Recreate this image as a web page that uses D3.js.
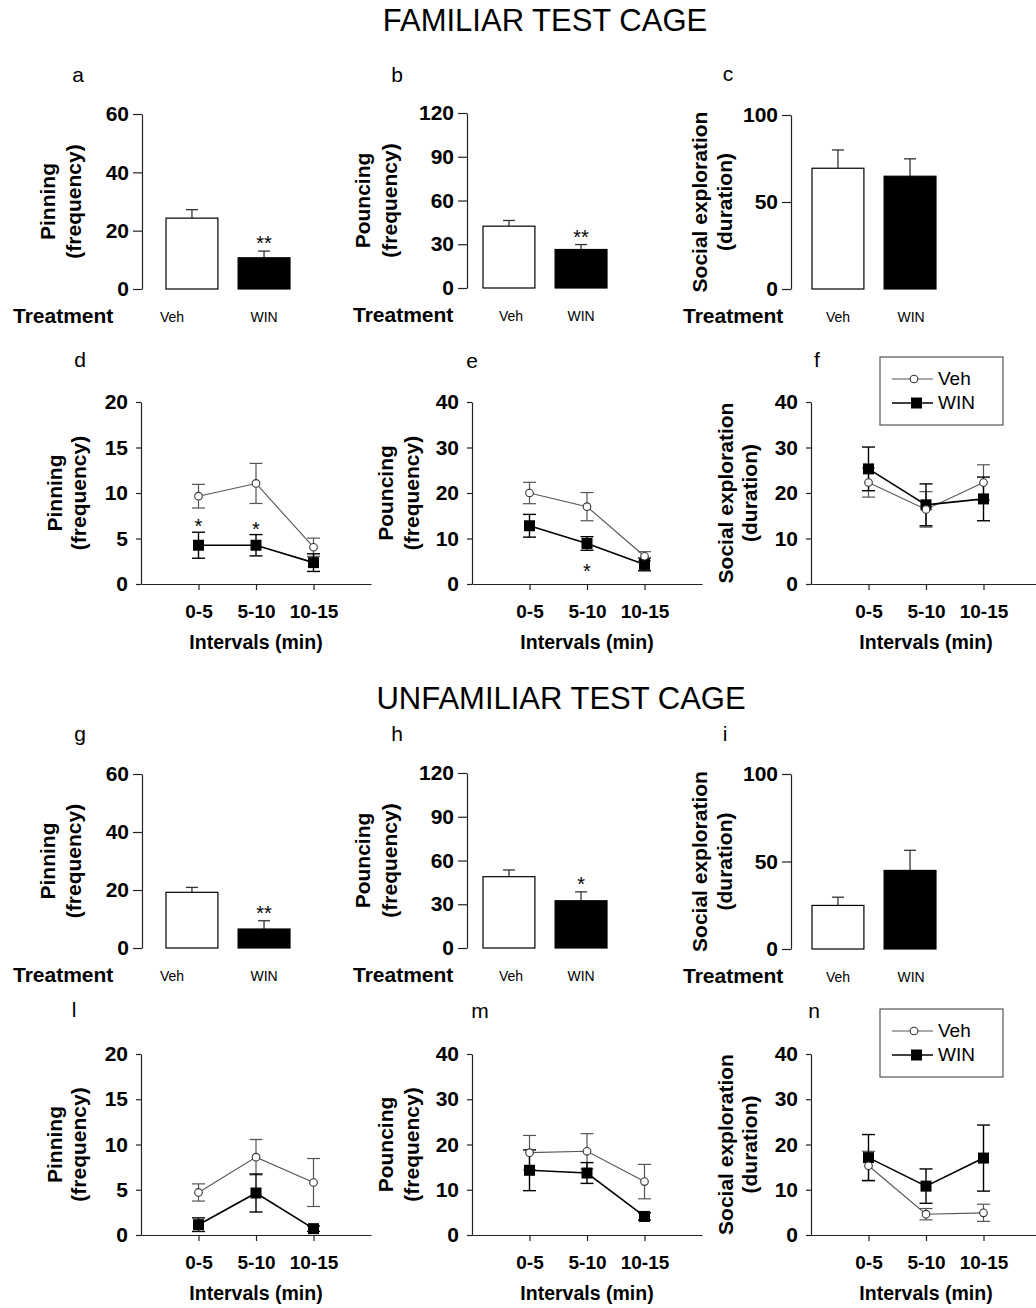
<!DOCTYPE html>
<html lang="en">
<head>
<meta charset="utf-8" />
<title>Familiar / unfamiliar test cage</title>
<script src="https://d3js.org/d3.v7.min.js"></script>
<style>
    body { margin: 0; background: #fff; }
    svg text { font-family: "Liberation Sans", Arial, sans-serif; }
</style>
</head>
<body>
<svg id="chart"></svg>
<script>
    var w = 1036;
    var h = 1308;

    // categories
    var groups = ["Veh", "WIN"];
    var intervals = ["0-5", "5-10", "10-15"];

    // tick labels
    var pinBarTicks = [0, 20, 40, 60];
    var pounceBarTicks = [0, 30, 60, 90, 120];
    var socialBarTicks = [0, 50, 100];
    var pinLineTicks = [0, 5, 10, 15, 20];
    var tenTicks = [0, 10, 20, 30, 40];

    // familiar cage, totals (mean, upper SEM)
    var famPinMean = [24.3, 10.7], famPinErr = [2.9, 2.3], famPinSig = ["", "**"];
    var famPounceMean = [42.4, 26.4], famPounceErr = [3.9, 3.4], famPounceSig = ["", "**"];
    var famSocialMean = [69.4, 64.8], famSocialErr = [10.5, 10.0], famSocialSig = ["", ""];

    // familiar cage, per interval
    var famPinVeh = [9.65, 11.05, 4.04], famPinVehErr = [1.3, 2.2, 1.0];
    var famPinWin = [4.26, 4.26, 2.35], famPinWinErr = [1.43, 1.17, 0.97];
    var famPinIntSig = ["*", "*", ""];
    var famPounceVeh = [20.0, 17.0, 6.1], famPounceVehErr = [2.35, 3.1, 1.0];
    var famPounceWin = [12.8, 8.9, 4.3], famPounceWinErr = [2.5, 1.5, 1.4];
    var famPounceIntSig = ["", "*", ""];
    var famSocialVeh = [22.3, 16.4, 22.3], famSocialVehErr = [3.2, 3.9, 3.9];
    var famSocialWin = [25.3, 17.4, 18.7], famSocialWinErr = [4.8, 4.6, 4.8];
    var famSocialIntSig = ["", "", ""];

    // unfamiliar cage, totals
    var unfPinMean = [19.2, 6.55], unfPinErr = [1.7, 2.85], unfPinSig = ["", "**"];
    var unfPounceMean = [48.9, 32.4], unfPounceErr = [4.6, 6.1], unfPounceSig = ["", "*"];
    var unfSocialMean = [24.9, 44.9], unfSocialErr = [4.7, 11.5], unfSocialSig = ["", ""];

    // unfamiliar cage, per interval
    var unfPinVeh = [4.7, 8.6, 5.8], unfPinVehErr = [0.95, 1.95, 2.65];
    var unfPinWin = [1.14, 4.64, 0.7], unfPinWinErr = [0.75, 2.1, 0.3];
    var unfPounceVeh = [18.2, 18.5, 11.8], unfPounceVehErr = [3.8, 3.9, 3.8];
    var unfPounceWin = [14.3, 13.7, 4.1], unfPounceWinErr = [4.5, 2.3, 0.8];
    var unfSocialVeh = [15.3, 4.6, 4.9], unfSocialVehErr = [3.2, 1.25, 1.9];
    var unfSocialWin = [17.1, 10.8, 17.0], unfSocialWinErr = [5.1, 3.8, 7.3];
    var noSig = ["", "", ""];

    var svg = d3.select("#chart")
        .attr("width", w)
        .attr("height", h);

    var axisColor = "#222";
    var vehColor = "#555";

    // section titles
    svg.append("text").attr("x", 545).attr("y", 31)
        .attr("text-anchor", "middle").attr("font-size", "31px")
        .text("FAMILIAR TEST CAGE");
    svg.append("text").attr("x", 561).attr("y", 709)
        .attr("text-anchor", "middle").attr("font-size", "31px")
        .text("UNFAMILIAR TEST CAGE");

    function styleAxis(g, size) {
        g.selectAll(".domain, .tick line").attr("stroke", axisColor).attr("stroke-width", 1.2);
        g.selectAll("text")
            .attr("fill", "#000")
            .attr("font-size", size)
            .attr("font-weight", "bold")
            .attr("font-family", "'Liberation Sans', Arial, sans-serif");
    }

    function yLabel(p, yMid) {
        p.label.forEach(function(line, i) {
            svg.append("text")
                .attr("transform", "translate(" + (p.ax + p.labelOff[i]) + "," + yMid + ") rotate(-90)")
                .attr("text-anchor", "middle")
                .attr("font-size", "21px")
                .attr("font-weight", "bold")
                .text(line);
        });
    }

    function panelLetter(p) {
        svg.append("text")
            .attr("x", p.letterX).attr("y", p.letterY)
            .attr("text-anchor", "middle")
            .attr("font-size", "21px")
            .text(p.letter);
    }

    // bar chart panel
    function drawBar(p) {
        var y = d3.scaleLinear().domain([0, p.max]).range([p.yBot, p.yTop]);
        var x = d3.scaleBand().domain(groups)
            .range([p.ax + p.barStart, p.ax + p.barStart + 124])
            .paddingInner(0.28);

        var ax = svg.append("g")
            .attr("transform", "translate(" + p.ax + ",0)")
            .call(d3.axisLeft(y).tickValues(p.ticks).tickSize(9).tickSizeOuter(0).tickPadding(4));
        styleAxis(ax, "21px");

        // error bars (upper only)
        groups.forEach(function(gname, i) {
            var cx = x(gname) + x.bandwidth() / 2;
            svg.append("line")
                .attr("x1", cx).attr("x2", cx)
                .attr("y1", y(p.mean[i])).attr("y2", y(p.mean[i] + p.err[i]))
                .attr("stroke", "#333").attr("stroke-width", 1.3);
            svg.append("line")
                .attr("x1", cx - 6).attr("x2", cx + 6)
                .attr("y1", y(p.mean[i] + p.err[i])).attr("y2", y(p.mean[i] + p.err[i]))
                .attr("stroke", "#333").attr("stroke-width", 1.3);
            if (p.sig[i]) {
                svg.append("text")
                    .attr("x", cx).attr("y", y(p.mean[i] + p.err[i]) - 1)
                    .attr("text-anchor", "middle").attr("font-size", "20px")
                    .text(p.sig[i]);
            }
        });

        svg.selectAll(null)
            .data(p.mean)
            .enter().append("rect")
            .attr("x", function(d, i) { return x(groups[i]); })
            .attr("y", function(d) { return y(d); })
            .attr("width", x.bandwidth())
            .attr("height", function(d) { return y(0) - y(d); })
            .attr("fill", function(d, i) { return i === 0 ? "#fff" : "#000"; })
            .attr("stroke", "#000")
            .attr("stroke-width", 1.2);

        // category labels
        groups.forEach(function(gname, i) {
            svg.append("text")
                .attr("x", x(gname) + x.bandwidth() / 2 + (p.catShift[i] || 0))
                .attr("y", p.yBot + 33)
                .attr("text-anchor", "middle")
                .attr("font-size", "14px")
                .text(gname);
        });
        svg.append("text")
            .attr("x", p.colX + 13).attr("y", p.yBot + 34)
            .attr("font-size", "21px").attr("font-weight", "bold")
            .text("Treatment");

        yLabel(p, (p.yTop + p.yBot) / 2);
        panelLetter(p);
    }

    // interval line chart panel
    function drawLine(p) {
        var y = d3.scaleLinear().domain([0, p.max]).range([p.yBot, p.yTop]);
        var x = d3.scaleLinear().domain([0, intervals.length + 1]).range([p.ax, p.ax + 230]);
        var pos = intervals.map(function(d, i) { return i + 1; });

        var xa = svg.append("g")
            .attr("transform", "translate(0," + p.yBot + ")")
            .call(d3.axisBottom(x).tickValues(pos)
                .tickFormat(function(d) { return intervals[d - 1]; })
                .tickSize(6).tickSizeOuter(0));
        styleAxis(xa, "19px");
        xa.selectAll("text").attr("y", 34).attr("dy", 0);

        var ya = svg.append("g")
            .attr("transform", "translate(" + p.ax + ",0)")
            .call(d3.axisLeft(y).tickValues(p.ticks).tickSize(5).tickSizeOuter(0).tickPadding(8));
        styleAxis(ya, "21px");

        var line = d3.line()
            .x(function(d, i) { return x(pos[i]); })
            .y(function(d) { return y(d); });

        function errBars(mean, err, color, width) {
            mean.forEach(function(m, i) {
                var cx = x(pos[i]);
                var lo = y(m - err[i]), hi = y(m + err[i]);
                svg.append("line").attr("x1", cx).attr("x2", cx).attr("y1", lo).attr("y2", hi)
                    .attr("stroke", color).attr("stroke-width", width);
                [lo, hi].forEach(function(yy) {
                    svg.append("line").attr("x1", cx - 6.5).attr("x2", cx + 6.5)
                        .attr("y1", yy).attr("y2", yy)
                        .attr("stroke", color).attr("stroke-width", width);
                });
            });
        }

        errBars(p.veh, p.vehErr, vehColor, 1.2);
        errBars(p.win, p.winErr, "#000", 1.4);

        svg.append("path").datum(p.veh).attr("d", line)
            .attr("fill", "none").attr("stroke", vehColor).attr("stroke-width", 1.1);
        svg.append("path").datum(p.win).attr("d", line)
            .attr("fill", "none").attr("stroke", "#000").attr("stroke-width", 1.6);

        svg.selectAll(null).data(p.win).enter().append("rect")
            .attr("x", function(d, i) { return x(pos[i]) - 5.5; })
            .attr("y", function(d) { return y(d) - 5.5; })
            .attr("width", 11).attr("height", 11)
            .attr("fill", "#000");

        svg.selectAll(null).data(p.veh).enter().append("circle")
            .attr("cx", function(d, i) { return x(pos[i]); })
            .attr("cy", function(d) { return y(d); })
            .attr("r", 3.8)
            .attr("fill", "#fff").attr("stroke", "#333").attr("stroke-width", 1.1);

        // significance
        p.sig.forEach(function(s, i) {
            if (!s) return;
            var yy = p.sigBelow
                ? y(p.win[i] - p.winErr[i]) + 28
                : y(p.win[i] + p.winErr[i]) + 1;
            svg.append("text").attr("x", x(pos[i])).attr("y", yy)
                .attr("text-anchor", "middle").attr("font-size", "20px").text(s);
        });

        svg.append("text")
            .attr("x", x(2)).attr("y", p.yBot + 65)
            .attr("text-anchor", "middle")
            .attr("font-size", "19.5px").attr("font-weight", "bold")
            .text("Intervals (min)");

        if (p.legend) {
            var lx = p.ax + 69, ly = p.yTop - 45;
            svg.append("rect").attr("x", lx).attr("y", ly).attr("width", 123).attr("height", 68)
                .attr("fill", "#fff").attr("stroke", "#555").attr("stroke-width", 1.2);
            var rows = [ly + 22, ly + 46];
            svg.append("line").attr("x1", lx + 12).attr("x2", lx + 53).attr("y1", rows[0]).attr("y2", rows[0])
                .attr("stroke", vehColor).attr("stroke-width", 1.1);
            svg.append("circle").attr("cx", lx + 34).attr("cy", rows[0]).attr("r", 3.8)
                .attr("fill", "#fff").attr("stroke", "#333").attr("stroke-width", 1.1);
            svg.append("line").attr("x1", lx + 12).attr("x2", lx + 53).attr("y1", rows[1]).attr("y2", rows[1])
                .attr("stroke", "#000").attr("stroke-width", 1.6);
            svg.append("rect").attr("x", lx + 31).attr("y", rows[1] - 5.5).attr("width", 11).attr("height", 11)
                .attr("fill", "#000");
            groups.forEach(function(gname, i) {
                svg.append("text").attr("x", lx + 58).attr("y", rows[i] + 6)
                    .attr("font-size", "19px").text(gname);
            });
        }

        yLabel(p, (p.yTop + p.yBot) / 2);
        panelLetter(p);
    }

    var pinLabel = ["Pinning", "(frequency)"];
    var pounceLabel = ["Pouncing", "(frequency)"];
    var socialLabel = ["Social exploration", "(duration)"];

    // bar panels
    [
        { letter: "a", colX: 0, ax: 142, yTop: 114, yBot: 289, max: 60, ticks: pinBarTicks,
          mean: famPinMean, err: famPinErr, sig: famPinSig, barStart: 24, catShift: [-20, 0],
          label: pinLabel, labelOff: [-87, -61], letterX: 78, letterY: 82 },
        { letter: "b", colX: 340, ax: 467, yTop: 113, yBot: 288, max: 120, ticks: pounceBarTicks,
          mean: famPounceMean, err: famPounceErr, sig: famPounceSig, barStart: 16, catShift: [2, 0],
          label: pounceLabel, labelOff: [-97, -70], letterX: 397, letterY: 82 },
        { letter: "c", colX: 670, ax: 791, yTop: 115, yBot: 289, max: 100, ticks: socialBarTicks,
          mean: famSocialMean, err: famSocialErr, sig: famSocialSig, barStart: 21, catShift: [0, 1],
          label: socialLabel, labelOff: [-84, -59], letterX: 728, letterY: 81 },
        { letter: "g", colX: 0, ax: 142, yTop: 774, yBot: 948, max: 60, ticks: pinBarTicks,
          mean: unfPinMean, err: unfPinErr, sig: unfPinSig, barStart: 24, catShift: [-20, 0],
          label: pinLabel, labelOff: [-87, -61], letterX: 80, letterY: 741 },
        { letter: "h", colX: 340, ax: 467, yTop: 773, yBot: 948, max: 120, ticks: pounceBarTicks,
          mean: unfPounceMean, err: unfPounceErr, sig: unfPounceSig, barStart: 16, catShift: [2, 0],
          label: pounceLabel, labelOff: [-97, -70], letterX: 397, letterY: 741 },
        { letter: "i", colX: 670, ax: 791, yTop: 774, yBot: 949, max: 100, ticks: socialBarTicks,
          mean: unfSocialMean, err: unfSocialErr, sig: unfSocialSig, barStart: 21, catShift: [0, 1],
          label: socialLabel, labelOff: [-84, -59], letterX: 725, letterY: 741 }
    ].forEach(drawBar);

    // interval panels
    [
        { letter: "d", ax: 141, yTop: 402, yBot: 584, max: 20, ticks: pinLineTicks,
          veh: famPinVeh, vehErr: famPinVehErr, win: famPinWin, winErr: famPinWinErr,
          sig: famPinIntSig, label: pinLabel, labelOff: [-79, -55], letterX: 80, letterY: 367 },
        { letter: "e", ax: 472, yTop: 402, yBot: 584, max: 40, ticks: tenTicks,
          veh: famPounceVeh, vehErr: famPounceVehErr, win: famPounceWin, winErr: famPounceWinErr,
          sig: famPounceIntSig, sigBelow: true, label: pounceLabel, labelOff: [-79, -53], letterX: 472, letterY: 368 },
        { letter: "f", ax: 811, yTop: 402, yBot: 584, max: 40, ticks: tenTicks,
          veh: famSocialVeh, vehErr: famSocialVehErr, win: famSocialWin, winErr: famSocialWinErr,
          sig: famSocialIntSig, legend: true, label: socialLabel, labelOff: [-78, -54], letterX: 817, letterY: 367 },
        { letter: "l", ax: 141, yTop: 1054, yBot: 1235, max: 20, ticks: pinLineTicks,
          veh: unfPinVeh, vehErr: unfPinVehErr, win: unfPinWin, winErr: unfPinWinErr,
          sig: noSig, label: pinLabel, labelOff: [-79, -55], letterX: 74, letterY: 1017 },
        { letter: "m", ax: 472, yTop: 1054, yBot: 1235, max: 40, ticks: tenTicks,
          veh: unfPounceVeh, vehErr: unfPounceVehErr, win: unfPounceWin, winErr: unfPounceWinErr,
          sig: noSig, label: pounceLabel, labelOff: [-79, -53], letterX: 480, letterY: 1018 },
        { letter: "n", ax: 811, yTop: 1054, yBot: 1235, max: 40, ticks: tenTicks,
          veh: unfSocialVeh, vehErr: unfSocialVehErr, win: unfSocialWin, winErr: unfSocialWinErr,
          sig: noSig, legend: true, label: socialLabel, labelOff: [-78, -54], letterX: 814, letterY: 1018 }
    ].forEach(drawLine);
</script>
</body>
</html>
